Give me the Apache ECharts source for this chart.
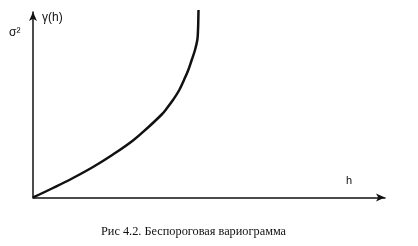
<!DOCTYPE html>
<html>
<head>
<meta charset="utf-8">
<script src="https://cdn.jsdelivr.net/npm/echarts@6/dist/echarts.min.js"></script>
<style>
html,body{margin:0;padding:0;background:#fff;}
#chart{width:418px;height:246px;}
</style>
</head>
<body>
<div id="chart"></div>
<script>
// Lag distance h
const hValues = [0, 20, 40, 60, 80, 100, 115, 128.7, 133.7, 140.3, 146.3, 151, 155.3, 158.7, 162, 164.3, 165, 165.3, 165.5];
// Variogram gamma(h)
const gammaValues = [0, 9.5, 19.5, 30.5, 43, 57, 70, 83, 89, 98, 107.5, 117.5, 127.5, 137.5, 147.5, 157.5, 167, 177.5, 187.5];
const captionText = 'Рис 4.2. Беспороговая вариограмма';
const xAxisName = 'h';
const yAxisName = 'γ(h)';
const sillLabel = 'σ²';

const chart = echarts.init(document.getElementById('chart'), null, {renderer: 'canvas'});
const data = hValues.map((h, i) => [h, gammaValues[i]]);

chart.setOption({
  animation: false,
  backgroundColor: '#fff',
  title: {
    text: captionText,
    left: 96,
    top: 221,
    textStyle: {fontFamily: 'Liberation Serif', fontSize: 12.3, fontWeight: 'normal', color: '#111'}
  },
  grid: {left: 33, top: 12, width: 352, height: 185.5, containLabel: false},
  xAxis: {
    type: 'value', min: 0, max: 352,
    name: xAxisName,
    nameLocation: 'end',
    nameGap: -36,
    nameTextStyle: {fontFamily: 'Liberation Sans', fontSize: 11, color: '#111', align: 'center', verticalAlign: 'bottom', padding: [0,0,11,0]},
    axisLine: {show: true, symbol: ['none','arrow'], symbolSize: [6, 9], lineStyle: {color: '#111', width: 1.5}},
    axisTick: {show: false}, axisLabel: {show: false}, splitLine: {show: false}
  },
  yAxis: {
    type: 'value', min: 0, max: 185.5,
    name: yAxisName,
    nameLocation: 'end',
    nameGap: -6,
    nameTextStyle: {fontFamily: 'Liberation Sans', fontSize: 12, color: '#111', align: 'left', verticalAlign: 'middle', padding: [0,0,0,9]},
    axisLine: {show: true, symbol: ['none','arrow'], symbolSize: [6, 9], lineStyle: {color: '#111', width: 1.5}},
    axisTick: {show: false}, axisLabel: {show: false}, splitLine: {show: false}
  },
  graphic: [{
    type: 'text', left: 9, top: 27,
    style: {text: sillLabel, fontFamily: 'Liberation Sans', fontSize: 12, fill: '#111'}
  }],
  series: [{
    type: 'line',
    data: data,
    smooth: 0.4,
    clip: false,
    showSymbol: false,
    lineStyle: {color: '#111', width: 2.5},
    silent: true
  }]
});
</script>
</body>
</html>
